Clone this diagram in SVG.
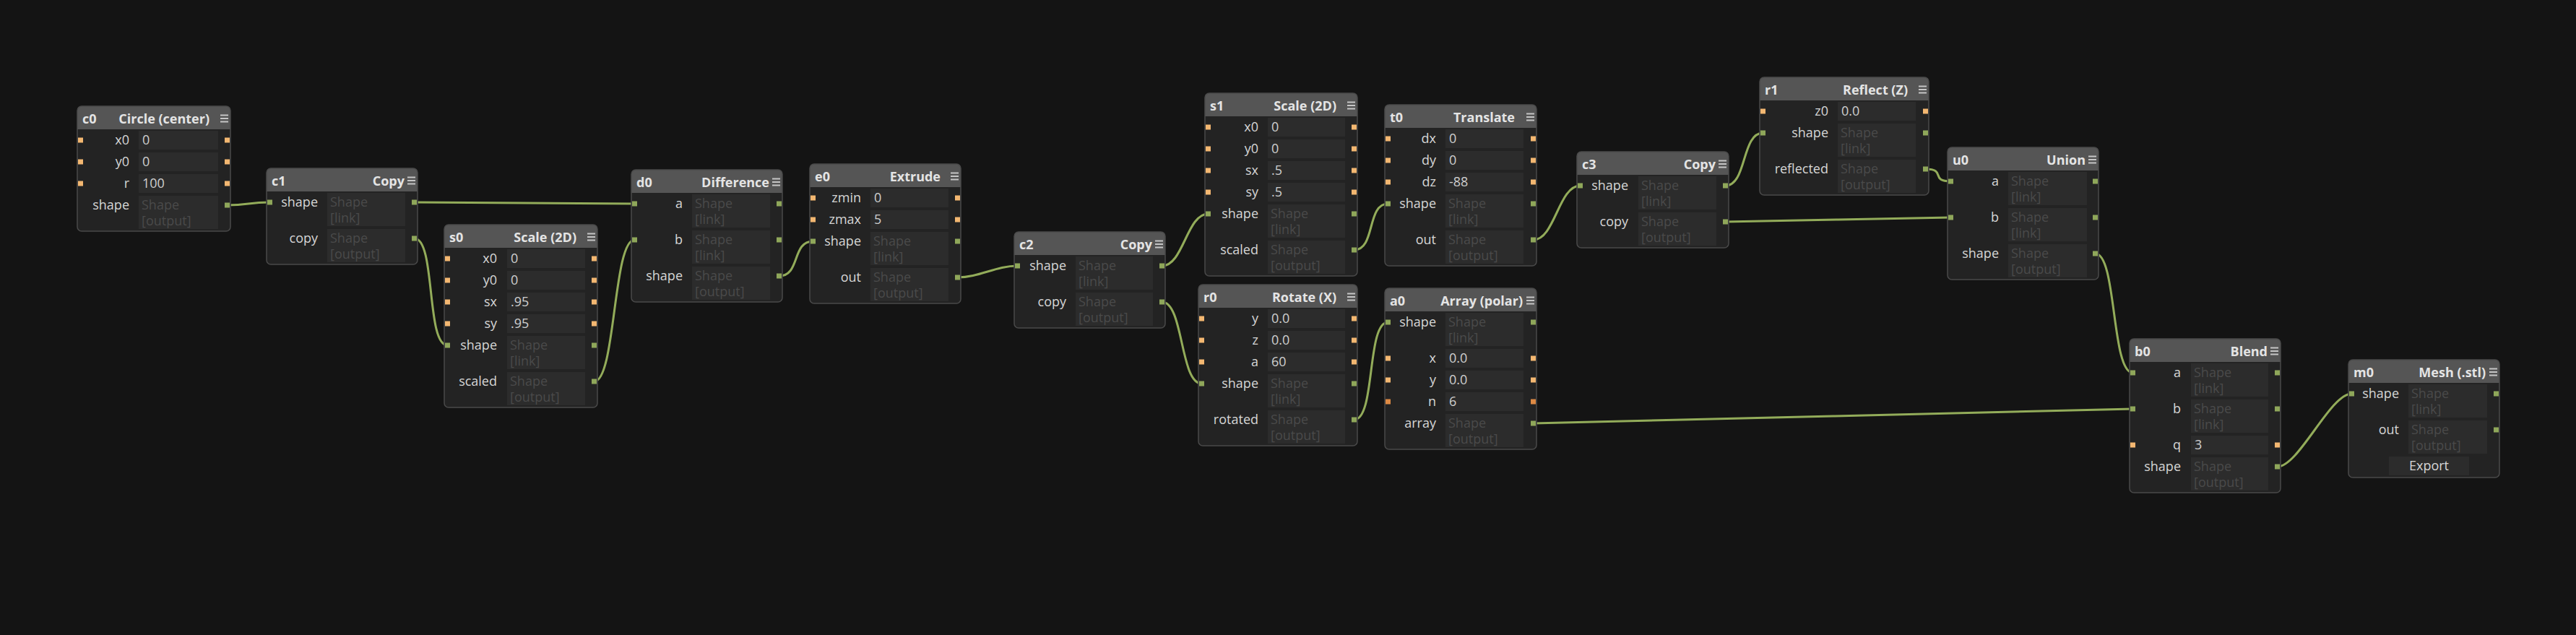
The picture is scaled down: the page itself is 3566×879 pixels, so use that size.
<svg xmlns="http://www.w3.org/2000/svg" width="3566" height="879" viewBox="0 0 3566 879">
<style>
.body{fill:#232323}
.head{fill:#555555}
.frame{fill:none;stroke:#4a4a4a;stroke-width:1.5}
.f{fill:#2c2c2c}
.pn{fill:#f3b771}
.pi{fill:#de8a44}
.ps{fill:#8fa75a}
.menu{stroke:#c6c6c6;stroke-width:2;fill:none}
.wire{fill:none;stroke:#93ac5a;stroke-width:3}
text{font-family:"Open Sans","DejaVu Sans",sans-serif;font-size:18px}
.tid{font-weight:bold;fill:#e4e4e4}
.tn{font-weight:bold;fill:#e4e4e4;text-anchor:end}
.lb{fill:#d6d6d6;text-anchor:end}
.v{fill:#cfcfcf}
.d{fill:#4a4a4a}
.btn{fill:#d6d6d6;text-anchor:middle}
</style>
<rect x="0" y="0" width="3566" height="879" fill="#141414"/>
<g id="connectors">
<path class="wire" d="M314.5,284 C344.5,284 343.5,280 373.5,280"/>
<path class="wire" d="M573.5,280 C603.5,280 848.5,282 878.5,282"/>
<path class="wire" d="M573.5,330 C603.5,330 589.5,478 619.5,478"/>
<path class="wire" d="M822.5,528 C852.5,528 848.5,332 878.5,332"/>
<path class="wire" d="M1078.5,382 C1108.5,382 1095.5,334 1125.5,334"/>
<path class="wire" d="M1325.5,384 C1355.5,384 1378.5,368 1408.5,368"/>
<path class="wire" d="M1608.5,368 C1638.5,368 1642.5,296 1672.5,296"/>
<path class="wire" d="M1608.5,418 C1638.5,418 1633.5,531 1663.5,531"/>
<path class="wire" d="M1874.5,346 C1904.5,346 1891.5,282 1921.5,282"/>
<path class="wire" d="M2122.5,332 C2152.5,332 2157.5,257 2187.5,257"/>
<path class="wire" d="M1874.5,581 C1904.5,581 1891.5,446 1921.5,446"/>
<path class="wire" d="M2388.5,257 C2418.5,257 2410.5,184 2440.5,184"/>
<path class="wire" d="M2388.5,307 C2418.5,307 2670.5,301 2700.5,301"/>
<path class="wire" d="M2665.5,234 C2695.5,234 2670.5,251 2700.5,251"/>
<path class="wire" d="M2122.5,586 C2152.5,586 2922.5,566 2952.5,566"/>
<path class="wire" d="M2900.5,351 C2930.5,351 2922.5,516 2952.5,516"/>
<path class="wire" d="M3152.5,646 C3182.5,646 3225.5,545 3255.5,545"/>
</g>

<g id="c0">
<rect class="body" x="107" y="147" width="212" height="173" rx="6"/>
<path class="head" d="M107,179 V153 Q107,147 113,147 H313 Q319,147 319,153 V179 Z"/>
<rect class="frame" x="107" y="147" width="212" height="173" rx="6"/>
<text class="tid" x="114" y="171">c0</text>
<text class="tn" x="290" y="171">Circle (center)</text>
<path class="menu" d="M305,159.5H316M305,164H316M305,168.5H316"/>
<rect class="f" x="192" y="181" width="110" height="26"/>
<text class="lb" x="179" y="200">x0</text><text class="v" x="197" y="200">0</text>
<rect class="pn" x="108" y="190.5" width="7" height="7"/><rect class="pn" x="311" y="190.5" width="7" height="7"/>
<rect class="f" x="192" y="211" width="110" height="26"/>
<text class="lb" x="179" y="230">y0</text><text class="v" x="197" y="230">0</text>
<rect class="pn" x="108" y="220.5" width="7" height="7"/><rect class="pn" x="311" y="220.5" width="7" height="7"/>
<rect class="f" x="192" y="241" width="110" height="26"/>
<text class="lb" x="179" y="260">r</text><text class="v" x="197" y="260">100</text>
<rect class="pn" x="108" y="250.5" width="7" height="7"/><rect class="pn" x="311" y="250.5" width="7" height="7"/>
<rect class="f" x="192" y="271" width="110" height="46"/>
<text class="lb" x="179" y="290">shape</text><text class="d" x="196" y="290">Shape</text><text class="d" x="196" y="312">[output]</text>
<rect class="ps" x="311" y="280.5" width="7" height="7"/>
</g>

<g id="c1">
<rect class="body" x="369" y="233" width="209" height="133" rx="6"/>
<path class="head" d="M369,265 V239 Q369,233 375,233 H572 Q578,233 578,239 V265 Z"/>
<rect class="frame" x="369" y="233" width="209" height="133" rx="6"/>
<text class="tid" x="376" y="257">c1</text>
<text class="tn" x="560" y="257">Copy</text>
<path class="menu" d="M564,245.5H575M564,250H575M564,254.5H575"/>
<rect class="f" x="453" y="267" width="108" height="46"/>
<text class="lb" x="440" y="286">shape</text><text class="d" x="457" y="286">Shape</text><text class="d" x="457" y="308">[link]</text>
<rect class="ps" x="370" y="276.5" width="7" height="7"/><rect class="ps" x="570" y="276.5" width="7" height="7"/>
<rect class="f" x="453" y="317" width="108" height="46"/>
<text class="lb" x="440" y="336">copy</text><text class="d" x="457" y="336">Shape</text><text class="d" x="457" y="358">[output]</text>
<rect class="ps" x="570" y="326.5" width="7" height="7"/>
</g>

<g id="s0">
<rect class="body" x="615" y="311" width="212" height="253" rx="6"/>
<path class="head" d="M615,343 V317 Q615,311 621,311 H821 Q827,311 827,317 V343 Z"/>
<rect class="frame" x="615" y="311" width="212" height="253" rx="6"/>
<text class="tid" x="622" y="335">s0</text>
<text class="tn" x="798" y="335">Scale (2D)</text>
<path class="menu" d="M813,323.5H824M813,328H824M813,332.5H824"/>
<rect class="f" x="702" y="345" width="108" height="26"/>
<text class="lb" x="688" y="364">x0</text><text class="v" x="707" y="364">0</text>
<rect class="pn" x="616" y="354.5" width="7" height="7"/><rect class="pn" x="819" y="354.5" width="7" height="7"/>
<rect class="f" x="702" y="375" width="108" height="26"/>
<text class="lb" x="688" y="394">y0</text><text class="v" x="707" y="394">0</text>
<rect class="pn" x="616" y="384.5" width="7" height="7"/><rect class="pn" x="819" y="384.5" width="7" height="7"/>
<rect class="f" x="702" y="405" width="108" height="26"/>
<text class="lb" x="688" y="424">sx</text><text class="v" x="707" y="424">.95</text>
<rect class="pn" x="616" y="414.5" width="7" height="7"/><rect class="pn" x="819" y="414.5" width="7" height="7"/>
<rect class="f" x="702" y="435" width="108" height="26"/>
<text class="lb" x="688" y="454">sy</text><text class="v" x="707" y="454">.95</text>
<rect class="pn" x="616" y="444.5" width="7" height="7"/><rect class="pn" x="819" y="444.5" width="7" height="7"/>
<rect class="f" x="702" y="465" width="108" height="46"/>
<text class="lb" x="688" y="484">shape</text><text class="d" x="706" y="484">Shape</text><text class="d" x="706" y="506">[link]</text>
<rect class="ps" x="616" y="474.5" width="7" height="7"/><rect class="ps" x="819" y="474.5" width="7" height="7"/>
<rect class="f" x="702" y="515" width="108" height="46"/>
<text class="lb" x="688" y="534">scaled</text><text class="d" x="706" y="534">Shape</text><text class="d" x="706" y="556">[output]</text>
<rect class="ps" x="819" y="524.5" width="7" height="7"/>
</g>

<g id="d0">
<rect class="body" x="874" y="235" width="209" height="183" rx="6"/>
<path class="head" d="M874,267 V241 Q874,235 880,235 H1077 Q1083,235 1083,241 V267 Z"/>
<rect class="frame" x="874" y="235" width="209" height="183" rx="6"/>
<text class="tid" x="881" y="259">d0</text>
<text class="tn" x="1065" y="259">Difference</text>
<path class="menu" d="M1069,247.5H1080M1069,252H1080M1069,256.5H1080"/>
<rect class="f" x="958" y="269" width="108" height="46"/>
<text class="lb" x="945" y="288">a</text><text class="d" x="962" y="288">Shape</text><text class="d" x="962" y="310">[link]</text>
<rect class="ps" x="875" y="278.5" width="7" height="7"/><rect class="ps" x="1075" y="278.5" width="7" height="7"/>
<rect class="f" x="958" y="319" width="108" height="46"/>
<text class="lb" x="945" y="338">b</text><text class="d" x="962" y="338">Shape</text><text class="d" x="962" y="360">[link]</text>
<rect class="ps" x="875" y="328.5" width="7" height="7"/><rect class="ps" x="1075" y="328.5" width="7" height="7"/>
<rect class="f" x="958" y="369" width="108" height="46"/>
<text class="lb" x="945" y="388">shape</text><text class="d" x="962" y="388">Shape</text><text class="d" x="962" y="410">[output]</text>
<rect class="ps" x="1075" y="378.5" width="7" height="7"/>
</g>

<g id="e0">
<rect class="body" x="1121" y="227" width="209" height="193" rx="6"/>
<path class="head" d="M1121,259 V233 Q1121,227 1127,227 H1324 Q1330,227 1330,233 V259 Z"/>
<rect class="frame" x="1121" y="227" width="209" height="193" rx="6"/>
<text class="tid" x="1128" y="251">e0</text>
<text class="tn" x="1302" y="251">Extrude</text>
<path class="menu" d="M1316,239.5H1327M1316,244H1327M1316,248.5H1327"/>
<rect class="f" x="1205" y="261" width="108" height="26"/>
<text class="lb" x="1192" y="280">zmin</text><text class="v" x="1210" y="280">0</text>
<rect class="pn" x="1122" y="270.5" width="7" height="7"/><rect class="pn" x="1322" y="270.5" width="7" height="7"/>
<rect class="f" x="1205" y="291" width="108" height="26"/>
<text class="lb" x="1192" y="310">zmax</text><text class="v" x="1210" y="310">5</text>
<rect class="pn" x="1122" y="300.5" width="7" height="7"/><rect class="pn" x="1322" y="300.5" width="7" height="7"/>
<rect class="f" x="1205" y="321" width="108" height="46"/>
<text class="lb" x="1192" y="340">shape</text><text class="d" x="1209" y="340">Shape</text><text class="d" x="1209" y="362">[link]</text>
<rect class="ps" x="1122" y="330.5" width="7" height="7"/><rect class="ps" x="1322" y="330.5" width="7" height="7"/>
<rect class="f" x="1205" y="371" width="108" height="46"/>
<text class="lb" x="1192" y="390">out</text><text class="d" x="1209" y="390">Shape</text><text class="d" x="1209" y="412">[output]</text>
<rect class="ps" x="1322" y="380.5" width="7" height="7"/>
</g>

<g id="c2">
<rect class="body" x="1404" y="321" width="209" height="133" rx="6"/>
<path class="head" d="M1404,353 V327 Q1404,321 1410,321 H1607 Q1613,321 1613,327 V353 Z"/>
<rect class="frame" x="1404" y="321" width="209" height="133" rx="6"/>
<text class="tid" x="1411" y="345">c2</text>
<text class="tn" x="1595" y="345">Copy</text>
<path class="menu" d="M1599,333.5H1610M1599,338H1610M1599,342.5H1610"/>
<rect class="f" x="1489" y="355" width="107" height="46"/>
<text class="lb" x="1476" y="374">shape</text><text class="d" x="1493" y="374">Shape</text><text class="d" x="1493" y="396">[link]</text>
<rect class="ps" x="1405" y="364.5" width="7" height="7"/><rect class="ps" x="1605" y="364.5" width="7" height="7"/>
<rect class="f" x="1489" y="405" width="107" height="46"/>
<text class="lb" x="1476" y="424">copy</text><text class="d" x="1493" y="424">Shape</text><text class="d" x="1493" y="446">[output]</text>
<rect class="ps" x="1605" y="414.5" width="7" height="7"/>
</g>

<g id="s1">
<rect class="body" x="1668" y="129" width="211" height="253" rx="6"/>
<path class="head" d="M1668,161 V135 Q1668,129 1674,129 H1873 Q1879,129 1879,135 V161 Z"/>
<rect class="frame" x="1668" y="129" width="211" height="253" rx="6"/>
<text class="tid" x="1675" y="153">s1</text>
<text class="tn" x="1850" y="153">Scale (2D)</text>
<path class="menu" d="M1865,141.5H1876M1865,146H1876M1865,150.5H1876"/>
<rect class="f" x="1755" y="163" width="107" height="26"/>
<text class="lb" x="1742" y="182">x0</text><text class="v" x="1760" y="182">0</text>
<rect class="pn" x="1669" y="172.5" width="7" height="7"/><rect class="pn" x="1871" y="172.5" width="7" height="7"/>
<rect class="f" x="1755" y="193" width="107" height="26"/>
<text class="lb" x="1742" y="212">y0</text><text class="v" x="1760" y="212">0</text>
<rect class="pn" x="1669" y="202.5" width="7" height="7"/><rect class="pn" x="1871" y="202.5" width="7" height="7"/>
<rect class="f" x="1755" y="223" width="107" height="26"/>
<text class="lb" x="1742" y="242">sx</text><text class="v" x="1760" y="242">.5</text>
<rect class="pn" x="1669" y="232.5" width="7" height="7"/><rect class="pn" x="1871" y="232.5" width="7" height="7"/>
<rect class="f" x="1755" y="253" width="107" height="26"/>
<text class="lb" x="1742" y="272">sy</text><text class="v" x="1760" y="272">.5</text>
<rect class="pn" x="1669" y="262.5" width="7" height="7"/><rect class="pn" x="1871" y="262.5" width="7" height="7"/>
<rect class="f" x="1755" y="283" width="107" height="46"/>
<text class="lb" x="1742" y="302">shape</text><text class="d" x="1759" y="302">Shape</text><text class="d" x="1759" y="324">[link]</text>
<rect class="ps" x="1669" y="292.5" width="7" height="7"/><rect class="ps" x="1871" y="292.5" width="7" height="7"/>
<rect class="f" x="1755" y="333" width="107" height="46"/>
<text class="lb" x="1742" y="352">scaled</text><text class="d" x="1759" y="352">Shape</text><text class="d" x="1759" y="374">[output]</text>
<rect class="ps" x="1871" y="342.5" width="7" height="7"/>
</g>

<g id="r0">
<rect class="body" x="1659" y="394" width="220" height="223" rx="6"/>
<path class="head" d="M1659,426 V400 Q1659,394 1665,394 H1873 Q1879,394 1879,400 V426 Z"/>
<rect class="frame" x="1659" y="394" width="220" height="223" rx="6"/>
<text class="tid" x="1666" y="418">r0</text>
<text class="tn" x="1850" y="418">Rotate (X)</text>
<path class="menu" d="M1865,406.5H1876M1865,411H1876M1865,415.5H1876"/>
<rect class="f" x="1755" y="428" width="107" height="26"/>
<text class="lb" x="1742" y="447">y</text><text class="v" x="1760" y="447">0.0</text>
<rect class="pn" x="1660" y="437.5" width="7" height="7"/><rect class="pn" x="1871" y="437.5" width="7" height="7"/>
<rect class="f" x="1755" y="458" width="107" height="26"/>
<text class="lb" x="1742" y="477">z</text><text class="v" x="1760" y="477">0.0</text>
<rect class="pn" x="1660" y="467.5" width="7" height="7"/><rect class="pn" x="1871" y="467.5" width="7" height="7"/>
<rect class="f" x="1755" y="488" width="107" height="26"/>
<text class="lb" x="1742" y="507">a</text><text class="v" x="1760" y="507">60</text>
<rect class="pn" x="1660" y="497.5" width="7" height="7"/><rect class="pn" x="1871" y="497.5" width="7" height="7"/>
<rect class="f" x="1755" y="518" width="107" height="46"/>
<text class="lb" x="1742" y="537">shape</text><text class="d" x="1759" y="537">Shape</text><text class="d" x="1759" y="559">[link]</text>
<rect class="ps" x="1660" y="527.5" width="7" height="7"/><rect class="ps" x="1871" y="527.5" width="7" height="7"/>
<rect class="f" x="1755" y="568" width="107" height="46"/>
<text class="lb" x="1742" y="587">rotated</text><text class="d" x="1759" y="587">Shape</text><text class="d" x="1759" y="609">[output]</text>
<rect class="ps" x="1871" y="577.5" width="7" height="7"/>
</g>

<g id="t0">
<rect class="body" x="1917" y="145" width="210" height="223" rx="6"/>
<path class="head" d="M1917,177 V151 Q1917,145 1923,145 H2121 Q2127,145 2127,151 V177 Z"/>
<rect class="frame" x="1917" y="145" width="210" height="223" rx="6"/>
<text class="tid" x="1924" y="169">t0</text>
<text class="tn" x="2097" y="169">Translate</text>
<path class="menu" d="M2113,157.5H2124M2113,162H2124M2113,166.5H2124"/>
<rect class="f" x="2001" y="179" width="108" height="26"/>
<text class="lb" x="1988" y="198">dx</text><text class="v" x="2006" y="198">0</text>
<rect class="pn" x="1918" y="188.5" width="7" height="7"/><rect class="pn" x="2119" y="188.5" width="7" height="7"/>
<rect class="f" x="2001" y="209" width="108" height="26"/>
<text class="lb" x="1988" y="228">dy</text><text class="v" x="2006" y="228">0</text>
<rect class="pn" x="1918" y="218.5" width="7" height="7"/><rect class="pn" x="2119" y="218.5" width="7" height="7"/>
<rect class="f" x="2001" y="239" width="108" height="26"/>
<text class="lb" x="1988" y="258">dz</text><text class="v" x="2006" y="258">-88</text>
<rect class="pn" x="1918" y="248.5" width="7" height="7"/><rect class="pn" x="2119" y="248.5" width="7" height="7"/>
<rect class="f" x="2001" y="269" width="108" height="46"/>
<text class="lb" x="1988" y="288">shape</text><text class="d" x="2005" y="288">Shape</text><text class="d" x="2005" y="310">[link]</text>
<rect class="ps" x="1918" y="278.5" width="7" height="7"/><rect class="ps" x="2119" y="278.5" width="7" height="7"/>
<rect class="f" x="2001" y="319" width="108" height="46"/>
<text class="lb" x="1988" y="338">out</text><text class="d" x="2005" y="338">Shape</text><text class="d" x="2005" y="360">[output]</text>
<rect class="ps" x="2119" y="328.5" width="7" height="7"/>
</g>

<g id="a0">
<rect class="body" x="1917" y="399" width="210" height="223" rx="6"/>
<path class="head" d="M1917,431 V405 Q1917,399 1923,399 H2121 Q2127,399 2127,405 V431 Z"/>
<rect class="frame" x="1917" y="399" width="210" height="223" rx="6"/>
<text class="tid" x="1924" y="423">a0</text>
<text class="tn" x="2108" y="423">Array (polar)</text>
<path class="menu" d="M2113,411.5H2124M2113,416H2124M2113,420.5H2124"/>
<rect class="f" x="2001" y="433" width="108" height="46"/>
<text class="lb" x="1988" y="452">shape</text><text class="d" x="2005" y="452">Shape</text><text class="d" x="2005" y="474">[link]</text>
<rect class="ps" x="1918" y="442.5" width="7" height="7"/><rect class="ps" x="2119" y="442.5" width="7" height="7"/>
<rect class="f" x="2001" y="483" width="108" height="26"/>
<text class="lb" x="1988" y="502">x</text><text class="v" x="2006" y="502">0.0</text>
<rect class="pn" x="1918" y="492.5" width="7" height="7"/><rect class="pn" x="2119" y="492.5" width="7" height="7"/>
<rect class="f" x="2001" y="513" width="108" height="26"/>
<text class="lb" x="1988" y="532">y</text><text class="v" x="2006" y="532">0.0</text>
<rect class="pn" x="1918" y="522.5" width="7" height="7"/><rect class="pn" x="2119" y="522.5" width="7" height="7"/>
<rect class="f" x="2001" y="543" width="108" height="26"/>
<text class="lb" x="1988" y="562">n</text><text class="v" x="2006" y="562">6</text>
<rect class="pi" x="1918" y="552.5" width="7" height="7"/><rect class="pi" x="2119" y="552.5" width="7" height="7"/>
<rect class="f" x="2001" y="573" width="108" height="46"/>
<text class="lb" x="1988" y="592">array</text><text class="d" x="2005" y="592">Shape</text><text class="d" x="2005" y="614">[output]</text>
<rect class="ps" x="2119" y="582.5" width="7" height="7"/>
</g>

<g id="c3">
<rect class="body" x="2183" y="210" width="210" height="133" rx="6"/>
<path class="head" d="M2183,242 V216 Q2183,210 2189,210 H2387 Q2393,210 2393,216 V242 Z"/>
<rect class="frame" x="2183" y="210" width="210" height="133" rx="6"/>
<text class="tid" x="2190" y="234">c3</text>
<text class="tn" x="2375" y="234">Copy</text>
<path class="menu" d="M2379,222.5H2390M2379,227H2390M2379,231.5H2390"/>
<rect class="f" x="2268" y="244" width="108" height="46"/>
<text class="lb" x="2254" y="263">shape</text><text class="d" x="2272" y="263">Shape</text><text class="d" x="2272" y="285">[link]</text>
<rect class="ps" x="2184" y="253.5" width="7" height="7"/><rect class="ps" x="2385" y="253.5" width="7" height="7"/>
<rect class="f" x="2268" y="294" width="108" height="46"/>
<text class="lb" x="2254" y="313">copy</text><text class="d" x="2272" y="313">Shape</text><text class="d" x="2272" y="335">[output]</text>
<rect class="ps" x="2385" y="303.5" width="7" height="7"/>
</g>

<g id="r1">
<rect class="body" x="2436" y="107" width="234" height="163" rx="6"/>
<path class="head" d="M2436,139 V113 Q2436,107 2442,107 H2664 Q2670,107 2670,113 V139 Z"/>
<rect class="frame" x="2436" y="107" width="234" height="163" rx="6"/>
<text class="tid" x="2443" y="131">r1</text>
<text class="tn" x="2641" y="131">Reflect (Z)</text>
<path class="menu" d="M2656,119.5H2667M2656,124H2667M2656,128.5H2667"/>
<rect class="f" x="2544" y="141" width="108" height="26"/>
<text class="lb" x="2531" y="160">z0</text><text class="v" x="2549" y="160">0.0</text>
<rect class="pn" x="2437" y="150.5" width="7" height="7"/><rect class="pn" x="2662" y="150.5" width="7" height="7"/>
<rect class="f" x="2544" y="171" width="108" height="46"/>
<text class="lb" x="2531" y="190">shape</text><text class="d" x="2548" y="190">Shape</text><text class="d" x="2548" y="212">[link]</text>
<rect class="ps" x="2437" y="180.5" width="7" height="7"/><rect class="ps" x="2662" y="180.5" width="7" height="7"/>
<rect class="f" x="2544" y="221" width="108" height="46"/>
<text class="lb" x="2531" y="240">reflected</text><text class="d" x="2548" y="240">Shape</text><text class="d" x="2548" y="262">[output]</text>
<rect class="ps" x="2662" y="230.5" width="7" height="7"/>
</g>

<g id="u0">
<rect class="body" x="2696" y="204" width="209" height="183" rx="6"/>
<path class="head" d="M2696,236 V210 Q2696,204 2702,204 H2899 Q2905,204 2905,210 V236 Z"/>
<rect class="frame" x="2696" y="204" width="209" height="183" rx="6"/>
<text class="tid" x="2703" y="228">u0</text>
<text class="tn" x="2887" y="228">Union</text>
<path class="menu" d="M2891,216.5H2902M2891,221H2902M2891,225.5H2902"/>
<rect class="f" x="2780" y="238" width="109" height="46"/>
<text class="lb" x="2767" y="257">a</text><text class="d" x="2784" y="257">Shape</text><text class="d" x="2784" y="279">[link]</text>
<rect class="ps" x="2697" y="247.5" width="7" height="7"/><rect class="ps" x="2897" y="247.5" width="7" height="7"/>
<rect class="f" x="2780" y="288" width="109" height="46"/>
<text class="lb" x="2767" y="307">b</text><text class="d" x="2784" y="307">Shape</text><text class="d" x="2784" y="329">[link]</text>
<rect class="ps" x="2697" y="297.5" width="7" height="7"/><rect class="ps" x="2897" y="297.5" width="7" height="7"/>
<rect class="f" x="2780" y="338" width="109" height="46"/>
<text class="lb" x="2767" y="357">shape</text><text class="d" x="2784" y="357">Shape</text><text class="d" x="2784" y="379">[output]</text>
<rect class="ps" x="2897" y="347.5" width="7" height="7"/>
</g>

<g id="b0">
<rect class="body" x="2948" y="469" width="209" height="213" rx="6"/>
<path class="head" d="M2948,501 V475 Q2948,469 2954,469 H3151 Q3157,469 3157,475 V501 Z"/>
<rect class="frame" x="2948" y="469" width="209" height="213" rx="6"/>
<text class="tid" x="2955" y="493">b0</text>
<text class="tn" x="3139" y="493">Blend</text>
<path class="menu" d="M3143,481.5H3154M3143,486H3154M3143,490.5H3154"/>
<rect class="f" x="3033" y="503" width="107" height="46"/>
<text class="lb" x="3019" y="522">a</text><text class="d" x="3037" y="522">Shape</text><text class="d" x="3037" y="544">[link]</text>
<rect class="ps" x="2949" y="512.5" width="7" height="7"/><rect class="ps" x="3149" y="512.5" width="7" height="7"/>
<rect class="f" x="3033" y="553" width="107" height="46"/>
<text class="lb" x="3019" y="572">b</text><text class="d" x="3037" y="572">Shape</text><text class="d" x="3037" y="594">[link]</text>
<rect class="ps" x="2949" y="562.5" width="7" height="7"/><rect class="ps" x="3149" y="562.5" width="7" height="7"/>
<rect class="f" x="3033" y="603" width="107" height="26"/>
<text class="lb" x="3019" y="622">q</text><text class="v" x="3038" y="622">3</text>
<rect class="pn" x="2949" y="612.5" width="7" height="7"/><rect class="pn" x="3149" y="612.5" width="7" height="7"/>
<rect class="f" x="3033" y="633" width="107" height="46"/>
<text class="lb" x="3019" y="652">shape</text><text class="d" x="3037" y="652">Shape</text><text class="d" x="3037" y="674">[output]</text>
<rect class="ps" x="3149" y="642.5" width="7" height="7"/>
</g>

<g id="m0">
<rect class="body" x="3251" y="498" width="209" height="163" rx="6"/>
<path class="head" d="M3251,530 V504 Q3251,498 3257,498 H3454 Q3460,498 3460,504 V530 Z"/>
<rect class="frame" x="3251" y="498" width="209" height="163" rx="6"/>
<text class="tid" x="3258" y="522">m0</text>
<text class="tn" x="3441" y="522">Mesh (.stl)</text>
<path class="menu" d="M3446,510.5H3457M3446,515H3457M3446,519.5H3457"/>
<rect class="f" x="3334" y="532" width="109" height="46"/>
<text class="lb" x="3321" y="551">shape</text><text class="d" x="3338" y="551">Shape</text><text class="d" x="3338" y="573">[link]</text>
<rect class="ps" x="3252" y="541.5" width="7" height="7"/><rect class="ps" x="3452" y="541.5" width="7" height="7"/>
<rect class="f" x="3334" y="582" width="109" height="46"/>
<text class="lb" x="3321" y="601">out</text><text class="d" x="3338" y="601">Shape</text><text class="d" x="3338" y="623">[output]</text>
<rect class="ps" x="3452" y="591.5" width="7" height="7"/>
<rect class="f" x="3307" y="632" width="111" height="26"/>
<text class="btn" x="3362.5" y="651">Export</text>
</g>
</svg>
